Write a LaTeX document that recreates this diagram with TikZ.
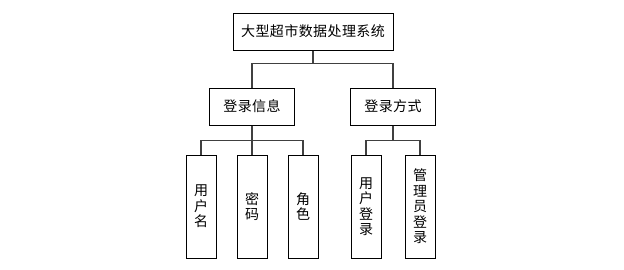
\documentclass[tikz,border=0pt]{standalone}
\usepackage{fontspec}
\setmainfont[LetterSpace=3]{Noto Sans CJK SC}

\tikzset{
  box/.style={draw=black, line width=0.75pt, fill=white, inner sep=0pt,
    font=\fontsize{10.5pt}{11.6pt}\selectfont, align=center},
  headbox/.style={box, minimum width=120pt, minimum height=27.75pt},
  midbox/.style={box, minimum width=63.75pt, minimum height=27.75pt},
  leafbox/.style={box, minimum width=22.5pt, minimum height=77.25pt},
  link/.style={draw=black!75, line width=1.1pt}
}

\begin{document}
\begin{tikzpicture}[x=0.75pt, y=-0.75pt]

  \useasboundingbox[fill=white] (0,0) rectangle (624,269);

  % Top level
  \node[headbox] (sys) at (313,31.5) {大型超市数据处理系统};

  % Second level
  \node[midbox] (info) at (252,106.5) {登录信息};
  \node[midbox] (mode) at (393,106.5) {登录方式};

  % Leaves
  \node[leafbox] (user)  at (201,206.5) {用\\户\\名};
  \node[leafbox] (pwd)   at (252,206.5) {密\\码};
  \node[leafbox] (role)  at (303,206.5) {角\\色};
  \node[leafbox] (ulog)  at (366,206.5) {用\\户\\登\\录};
  \node[leafbox] (alog)  at (420,206.5) {管\\理\\员\\登\\录};

  % Connectors from the top box
  \draw[link] (sys.south) -- ++(0,13) -| (info.north);
  \draw[link] (sys.south) -- ++(0,13) -| (mode.north);

  % Connectors to the leaves
  \draw[link] (info.south) -- ++(0,15) -| (user.north);
  \draw[link] (info.south) -- (pwd.north);
  \draw[link] (info.south) -- ++(0,15) -| (role.north);
  \draw[link] (mode.south) -- ++(0,15) -| (ulog.north);
  \draw[link] (mode.south) -- ++(0,15) -| (alog.north);

\end{tikzpicture}
\end{document}
